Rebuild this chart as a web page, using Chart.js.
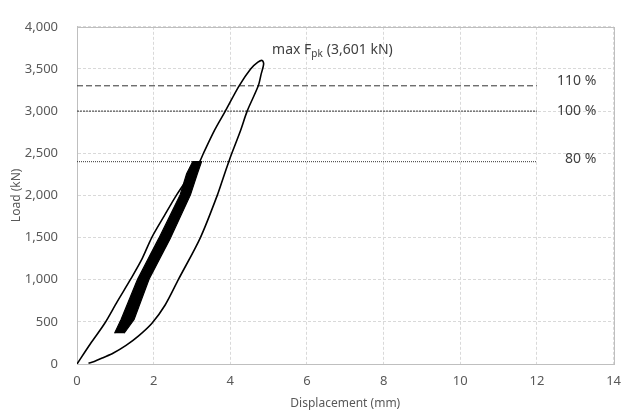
<!DOCTYPE html>
<html>
<head>
<meta charset="utf-8">
<script src="https://cdn.jsdelivr.net/npm/chart.js@4.4.1/dist/chart.umd.min.js"></script>
<style>
html, body { margin: 0; padding: 0; background: #fff; }
#wrap { width: 630px; height: 416px; }
</style>
</head>
<body>
<div id="wrap"><canvas id="loadChart" width="630" height="416"></canvas></div>
<script>
// envelope: loading from origin up to the peak, then unloading back down
const envelopeDisp = [0, 0.35, 0.72, 1.05, 1.40, 1.70, 1.95, 2.28, 2.60, 2.92, 3.20, 3.30, 3.59, 3.87, 4.23, 4.53, 4.72, 4.83,
    4.87, 4.80, 4.73, 4.44, 4.27, 4.04, 3.96, 3.81, 3.66, 3.22, 2.65, 2.30, 1.95, 1.60, 1.28, 0.95, 0.68, 0.45, 0.30];
const envelopeLoad = [0, 240, 480, 740, 1006, 1250, 1500, 1760, 2006, 2220, 2400, 2500, 2774, 3000, 3300, 3500, 3580, 3601,
    3560, 3430, 3300, 3000, 2774, 2500, 2400, 2200, 2000, 1500, 1006, 700, 480, 330, 220, 130, 75, 30, 10];

// outline of the dense cyclic band (left edge up, right edge down)
const bandDisp = [0.98, 1.15, 1.58, 2.13, 2.69, 2.86, 3.02, 3.25, 3.14, 2.96, 2.43, 1.88, 1.49, 1.23];
const bandLoad = [365, 527, 1006, 1487, 2006, 2256, 2400, 2400, 2256, 2006, 1487, 1006, 527, 365];

const refLevels = [3300, 3000, 2400];
const refLabels = ["110 %", "100 %", "80 %"];
const refEnd = 12;

const peakDisp = 4.83;
const peakLoad = 3601;

const xTicks = [0, 2, 4, 6, 8, 10, 12, 14];
const yTicks = [0, 500, 1000, 1500, 2000, 2500, 3000, 3500, 4000];

const FONT = "'Noto Sans', sans-serif";

function toPoints(xs, ys) {
    return xs.map((x, i) => ({ x: x, y: ys[i] }));
}

const refDashes = [[6, 3], [2, 1], [1, 1]];

const refDatasets = refLevels.map((lvl, i) => ({
    label: refLabels[i],
    data: [{ x: 0, y: lvl }, { x: refEnd, y: lvl }],
    borderColor: "#333333",
    borderWidth: 1,
    borderDash: refDashes[i],
    pointRadius: 0,
    showLine: true
}));

const plotFrame = {
    id: "plotFrame",
    beforeDatasetsDraw(chart) {
        const a = chart.chartArea;
        const ctx = chart.ctx;
        ctx.save();
        ctx.strokeStyle = "#bfbfbf";
        ctx.lineWidth = 1;
        ctx.strokeRect(Math.round(a.left) + 0.5, Math.round(a.top) + 0.5,
            Math.round(a.right - a.left), Math.round(a.bottom - a.top));
        ctx.restore();
    }
};

const refNotes = {
    id: "refNotes",
    afterDatasetsDraw(chart) {
        const { ctx, scales: { x, y } } = chart;
        const dy = [-5, 0, -3];
        ctx.save();
        ctx.font = "14px " + FONT;
        ctx.fillStyle = "#404040";
        ctx.textAlign = "right";
        ctx.textBaseline = "middle";
        refLevels.forEach((lvl, i) => {
            ctx.fillText(refLabels[i], x.getPixelForValue(13.55), y.getPixelForValue(lvl) + dy[i]);
        });

        // peak annotation
        let cx = x.getPixelForValue(peakDisp) + 10;
        const by = y.getPixelForValue(peakLoad) - 6;
        ctx.textAlign = "left";
        ctx.textBaseline = "alphabetic";
        ctx.fillText("max F", cx, by);
        cx += ctx.measureText("max F").width;
        ctx.font = "10px " + FONT;
        ctx.fillText("pk", cx, by + 3);
        cx += ctx.measureText("pk").width + 4;
        ctx.font = "14px " + FONT;
        ctx.fillText("(" + peakLoad.toLocaleString("en-US") + " kN)", cx, by);
        ctx.restore();
    }
};

new Chart(document.getElementById("loadChart"), {
    type: "scatter",
    data: {
        datasets: [
            {
                label: "Band",
                data: toPoints(bandDisp, bandLoad),
                showLine: true,
                fill: "shape",
                backgroundColor: "#000000",
                borderColor: "#000000",
                borderWidth: 1.2,
                pointRadius: 0
            },
            {
                label: "Envelope",
                data: toPoints(envelopeDisp, envelopeLoad),
                showLine: true,
                fill: false,
                borderColor: "#000000",
                borderWidth: 1.6,
                pointRadius: 0,
                tension: 0.3
            },
            ...refDatasets
        ]
    },
    options: {
        responsive: false,
        animation: false,
        layout: { padding: { top: 17, right: 8, left: 0, bottom: 0 } },
        plugins: {
            legend: { display: false },
            tooltip: { enabled: false }
        },
        scales: {
            x: {
                type: "linear",
                min: 0,
                max: 14,
                afterBuildTicks: axis => { axis.ticks = xTicks.map(v => ({ value: v })); },
                afterFit: axis => { axis.height = 52; },
                grid: { color: "#d9d9d9", drawTicks: false },
                border: { color: "#bfbfbf", dash: [3, 2] },
                ticks: { color: "#595959", font: { family: FONT, size: 13 }, padding: 9 },
                title: {
                    display: true,
                    text: "Displacement (mm)",
                    color: "#595959",
                    font: { family: FONT, size: 12 },
                    padding: { top: 0, bottom: 5 }
                }
            },
            y: {
                type: "linear",
                min: 0,
                max: 4000,
                afterBuildTicks: axis => { axis.ticks = yTicks.map(v => ({ value: v })); },
                afterFit: axis => { axis.width = 77; },
                grid: { color: "#d9d9d9", drawTicks: false },
                border: { color: "#bfbfbf", dash: [3, 2] },
                ticks: {
                    color: "#595959",
                    font: { family: FONT, size: 13 },
                    padding: 19,
                    callback: v => v.toLocaleString("en-US")
                },
                title: {
                    display: true,
                    text: "Load (kN)",
                    color: "#595959",
                    font: { family: FONT, size: 12 },
                    padding: { top: 9, bottom: 0 }
                }
            }
        }
    },
    plugins: [plotFrame, refNotes]
});
</script>
</body>
</html>
